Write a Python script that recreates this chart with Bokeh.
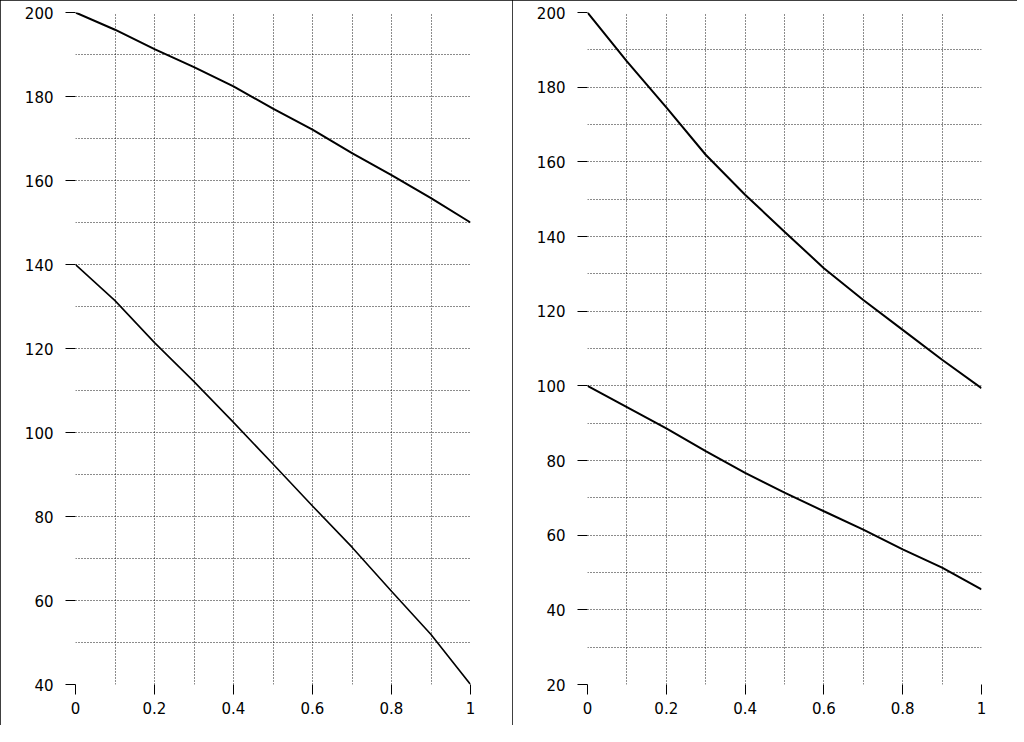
from bokeh.plotting import figure
from bokeh.layouts import row
from bokeh.models import Range1d, FixedTicker, CustomJSTickFormatter
from bokeh.embed import file_html
from bokeh.resources import INLINE

# ---- data ----
x_vals = [0.0, 0.1, 0.2, 0.3, 0.4, 0.5, 0.6, 0.7, 0.8, 0.9, 1.0]

left_upper = [200.0, 195.9, 191.3, 187.0, 182.4, 177.1, 172.1, 166.5, 161.3, 155.8, 150.0]
left_lower = [140.0, 131.4, 121.4, 112.1, 102.4, 92.5, 82.5, 72.7, 62.2, 51.9, 40.0]

right_upper = [200.0, 186.9, 174.6, 161.9, 151.2, 141.3, 131.5, 123.0, 115.0, 107.0, 99.4]
right_lower = [100.0, 94.3, 88.6, 82.5, 76.7, 71.4, 66.4, 61.5, 56.2, 51.3, 45.5]

x_major_ticks = [0, 0.2, 0.4, 0.6, 0.8, 1]
x_grid_ticks = [0, 0.1, 0.2, 0.3, 0.4, 0.5, 0.6, 0.7, 0.8, 0.9, 1]
left_y_major = [40, 60, 80, 100, 120, 140, 160, 180, 200]
left_y_grid = list(range(40, 201, 10))
right_y_major = [20, 40, 60, 80, 100, 120, 140, 160, 180, 200]
right_y_grid = list(range(20, 201, 10))

FONT = "DejaVu Sans"


def make_panel(width, y_range, y_major, y_grid, series, border_left, border_right):
    p = figure(width=width, height=725, output_backend="svg", toolbar_location=None,
               x_range=Range1d(0, 1), y_range=Range1d(*y_range),
               min_border_left=border_left, min_border_right=border_right,
               min_border_top=12, min_border_bottom=41)
    p.outline_line_color = None
    p.background_fill_color = "white"
    p.border_fill_color = "white"
    p.styles = {"outline": "1px solid black", "outline-offset": "-1px"}

    p.xaxis.ticker = FixedTicker(ticks=x_major_ticks)
    p.yaxis.ticker = FixedTicker(ticks=y_major)
    p.xaxis.formatter = CustomJSTickFormatter(code="return String(Math.round(tick*10)/10);")
    p.xgrid.ticker = FixedTicker(ticks=x_grid_ticks)
    p.ygrid.ticker = FixedTicker(ticks=y_grid)

    for ax in (p.xaxis, p.yaxis):
        ax.axis_line_color = None
        ax.major_tick_in = 0
        ax.major_tick_out = 10
        ax.major_tick_line_color = "black"
        ax.major_tick_line_width = 1
        ax.minor_tick_line_color = None
        ax.major_label_text_font = FONT
        ax.major_label_text_font_size = "15px"
        ax.major_label_text_color = "black"
    p.xaxis.major_label_standoff = 7
    p.yaxis.major_label_standoff = 12

    for g in (p.xgrid, p.ygrid):
        g.grid_line_color = "black"
        g.grid_line_dash = "1 2"
        g.grid_line_width = 1
        g.grid_line_alpha = 0.9

    for ys, w in series:
        p.line(x_vals, ys, line_color="black", line_width=w)
    return p


p1 = make_panel(512, (40, 200), left_y_major, left_y_grid,
                [(left_upper, 2), (left_lower, 1.6)], 75, 42)
p2 = make_panel(505, (20, 200), right_y_major, right_y_grid,
                [(right_upper, 2), (right_lower, 2)], 75, 36)

layout = row(p1, p2, spacing=0)
open("out.html", "w").write(file_html(layout, INLINE))
